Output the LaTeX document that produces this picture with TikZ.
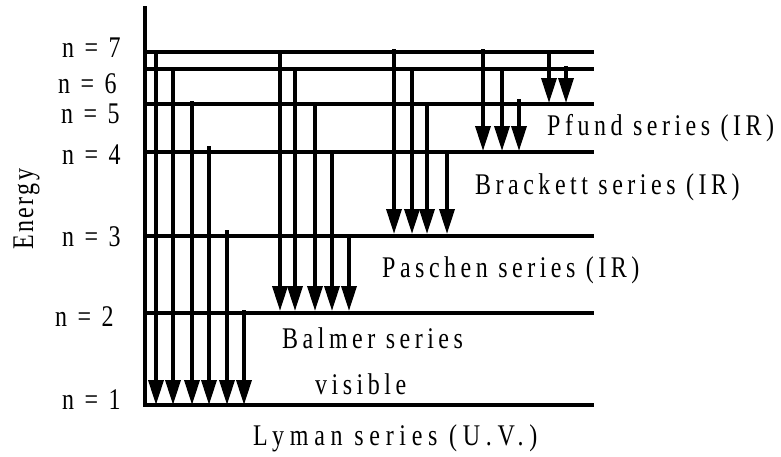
\documentclass[tikz,border=0pt]{standalone}
\usepackage{fontspec}
\setmainfont{Liberation Serif}[FakeStretch=0.8,LetterSpace=15]
\usetikzlibrary{arrows.meta}
\begin{document}
\begin{tikzpicture}[x=1pt,y=-1pt,
  level/.style={line width=3.5pt},
  axisline/.style={line width=4pt},
  trans/.style={line width=3.5pt,-{Triangle[length=25pt,width=15pt]}},
  lab/.style={anchor=base west,inner sep=0pt,font=\fontsize{30}{32}\selectfont}]
\useasboundingbox (0,0) rectangle (781,456);
% axis
\coordinate (axtop) at (145,6);
\coordinate (axbot) at (145,405);
\draw[axisline] (axbot) -- (axtop);
% levels
\foreach \n/\y in {7/52,6/69,5/104,4/152,3/236,2/313,1/405}{
  \coordinate (L\n a) at (143,\y);
  \coordinate (L\n b) at (594,\y);
  \draw[level] (L\n a) -- (L\n b);
}
% level labels
\node[lab] (n7) at (62,57) {n = 7};
\node[lab] (n6) at (58,93) {n = 6};
\node[lab] (n5) at (61,123) {n = 5};
\node[lab] (n4) at (62,164) {n = 4};
\node[lab] (n3) at (62,246) {n = 3};
\node[lab] (n2) at (55,326) {n = 2};
\node[lab] (n1) at (62,409) {n = 1};
% Lyman
\foreach \x/\y in {156/50,173/69,192/101,209/146,227/230,244/310}
  \draw[trans] (\x,\y) -- (\x,405);
% Balmer
\foreach \x/\y in {280/52,295/70,315/106,332/153,349/236}
  \draw[trans] (\x,\y) -- (\x,311);
% Paschen
\foreach \x/\y in {394/49,412/70,427/106,447/153}
  \draw[trans] (\x,\y) -- (\x,234);
% Brackett
\foreach \x/\y in {483/49,502/70,519/99}
  \draw[trans] (\x,\y) -- (\x,151);
% Pfund
\foreach \x/\y in {549/52,566/66}
  \draw[trans] (\x,\y) -- (\x,103);
% series labels
\node[lab] (pf) at (547,135) {Pfund series (IR)};
\node[lab] (br) at (475,194) {Brackett series (IR)};
\node[lab] (pa) at (382,277) {Paschen series (IR)};
\node[lab] (ba) at (282,348) {Balmer series};
\node[lab] (vi) at (315,394) {visible};
\node[lab,font=\fontsize{30}{32}\selectfont\addfontfeatures{LetterSpace=19}] (ly) at (253,445) {Lyman series (U.V.)};
\node[lab,rotate=90,font=\fontsize{30}{32}\selectfont\addfontfeatures{LetterSpace=8}] (en) at (33,250) {Energy};
\end{tikzpicture}
\end{document}
